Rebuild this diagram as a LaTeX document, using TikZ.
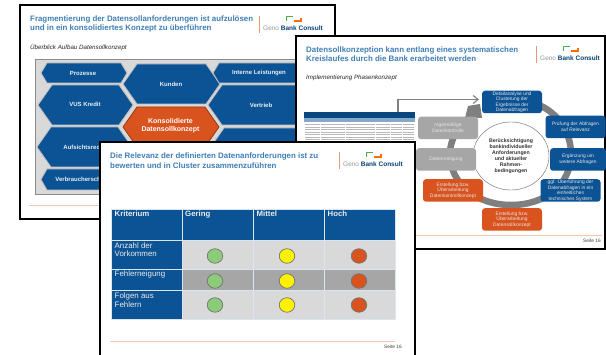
\documentclass[tikz,border=0pt]{standalone}
\usepackage{fontspec}
\setmainfont{Liberation Sans}
\usetikzlibrary{shapes.geometric,arrows.meta}
\definecolor{bankblue}{HTML}{0B5394}
\definecolor{titleblue}{HTML}{3F7FB5}
\definecolor{brandorange}{HTML}{D9531E}
\definecolor{ringgray}{HTML}{7F7F7F}
\definecolor{softgray}{HTML}{A6A6A6}
\definecolor{linepeach}{HTML}{F4C7B2}
\definecolor{lampgreen}{HTML}{8CCB7A}
\definecolor{lampyellow}{HTML}{FFF200}
\tikzset{
  slide/.style={draw=black,line width=2pt,fill=white},
  titletext/.style={anchor=west,inner sep=0pt,text=titleblue,font=\fontsize{7.9}{9.6}\selectfont\bfseries,align=left},
  subhead/.style={anchor=west,inner sep=0pt,font=\fontsize{6.2}{7}\selectfont\itshape,text=black!85},
  hexa/.style={draw=black!25,line width=.8pt,fill=bankblue},
  hexlabel/.style={text=white!90!bankblue,font=\fontsize{6}{7}\selectfont\bfseries,align=center,inner sep=0pt},
  cyc/.style={rounded corners=3pt,draw=none,minimum width=60pt,minimum height=22.5pt,inner sep=0pt,align=center,text=white!90!black,font=\fontsize{4.9}{5.5}\selectfont},
  cycblue/.style={cyc,fill=bankblue},
  cycorange/.style={cyc,fill=brandorange},
  cycgray/.style={cyc,fill=softgray},
  cell/.style={anchor=north west,minimum width=71pt,inner sep=0pt,draw=white!85!bankblue,line width=.6pt},
  tabhead/.style={text=white!92!black,font=\fontsize{7.8}{8.5}\selectfont\bfseries,anchor=north west,inner sep=0pt,align=left},
  tabrow/.style={text=white!92!black,font=\fontsize{7.9}{8.3}\selectfont,anchor=north west,inner sep=0pt,align=left},
  lamp/.style={ellipse,draw=black!55,line width=.7pt,minimum width=15.5pt,minimum height=14.5pt,inner sep=0pt},
  footline/.style={draw=linepeach,line width=1pt},
  pageno/.style={font=\fontsize{4.8}{5}\selectfont,text=black!75,inner sep=0pt},
  genotext/.style={anchor=west,inner sep=0pt,font=\fontsize{6.5}{7}\selectfont,text=black!40},
  logoline/.style={draw=brandorange!60,line width=.8pt},
  logogreen/.style={draw=green!55!black!70,line width=1pt},
  logoorange/.style={draw=orange!85!red,line width=1.2pt},
}
\newcommand{\genologo}[3]{%
  \draw[logoline] (#1,#2) -- (#1,#2+17);
  \node[genotext] (#3) at (#1+4,#2+12) {Geno \textcolor{bankblue!80!black}{\textbf{Bank Consult}}};
  \draw[logogreen] (#1+27,#2+5) -- (#1+27,#2+1) -- (#1+34,#2+1);
  \draw[logoorange] (#1+35,#2+5) -- (#1+42,#2+5) -- (#1+42,#2+2);
}
\newcommand{\hexshape}[5]{% x1,y1,x2,y2,cut
  \draw[hexa] (#1,{(#2+#4)/2}) -- (#1+#5,#2) -- (#3-#5,#2) -- (#3,{(#2+#4)/2}) -- (#3-#5,#4) -- (#1+#5,#4) -- cycle;
}
\begin{document}
\begin{tikzpicture}[x=1pt,y=-1pt]
\useasboundingbox (0,0) rectangle (606,355);
\fill[white] (0,0) rectangle (606,355);

%% ---- slide 1
\draw[slide] (19.5,5.5) rectangle (335,219.5);
\node[titletext] (t1) at (30,24) {Fragmentierung der Datensollanforderungen ist aufzulösen\\und in ein konsolidiertes Konzept zu überführen};
\genologo{259}{16}{g1}
\node[subhead] (s1) at (30,47.5) {Überblick Aufbau Datensollkonzept};
\draw[draw=black!45,fill=black!15,line width=.9pt] (35,59) rectangle (320,194);
\hexshape{41}{63}{127}{83}{6}
\hexshape{123}{64}{220}{104}{14}
\hexshape{213}{63}{310}{83}{6}
\hexshape{38}{85}{133}{125}{14}
\hexshape{208}{85}{310}{125}{14}
\hexshape{37}{127}{132}{167}{14}
\hexshape{210}{128}{310}{168}{14}
\hexshape{41}{169}{132}{190}{6}
\draw[hexa,fill=brandorange,draw=brandorange!70!black] (123,127) -- (137,107) -- (205,107) -- (219,127) -- (205,147) -- (137,147) -- cycle;
\node[hexlabel] (h1) at (83,73) {Prozesse};
\node[hexlabel] (h2) at (171,84) {Kunden};
\node[hexlabel] (h3) at (259,73) {Interne Leistungen};
\node[hexlabel] (h4) at (85,104.5) {VUS Kredit};
\node[hexlabel] (h5) at (261,105) {Vertrieb};
\node[hexlabel] (h6) at (84.5,147) {Aufsichtsrecht};
\node[hexlabel] (h7) at (82.5,179) {Verbraucherschutz};
\node[hexlabel,text=white,font=\fontsize{7}{8}\selectfont\bfseries] (h8) at (170.5,126) {Konsolidierte\\Datensollkonzept};
\draw[footline] (29,206) -- (330,206);

%% ---- slide 2
\draw[slide] (296,36) rectangle (605,249);
\node[titletext] (t2) at (306,54) {Datensollkonzeption kann entlang eines systematischen\\Kreislaufes durch die Bank erarbeitet werden};
\genologo{536}{46}{g2}
\node[subhead] (s2) at (306,78) {Implementierung Phasenkonzept};

% table picture
\node[anchor=north west,fill=bankblue!85!black,minimum width=111pt,minimum height=6pt,inner sep=0pt] (tbl) at (303.5,112) {};
\fill[bankblue!50] (303.5,118) rectangle (414.5,122);
\foreach \yy in {124.5,127,129.5,132,134.5,137,139.5}{\draw[black!28,line width=.5pt] (305,\yy) -- (414,\yy);}
\foreach \xx in {320,345,375,390,402}{\draw[white,line width=.6pt] (\xx,122) -- (\xx,142);}

% ring
\draw[ringgray,line width=6.5pt] (476,113) .. controls (462,122) and (450,136) .. (450,154)
  .. controls (450,185) and (478,205) .. (511,205)
  .. controls (545,205) and (571,185) .. (571,154)
  .. controls (571,130) and (555,108) .. (530,102);
\fill[ringgray] (465,118) -- (468,106) -- (480,104) -- (482,118) -- cycle;

\node[draw=black!60,fill=white,ellipse,minimum width=76pt,minimum height=68pt,inner sep=0pt,align=center,font=\fontsize{5.2}{5.9}\selectfont\bfseries,text=black!80] (core) at (511,156) {Berücksichtigung\\bankindividueller\\Anforderungen\\und aktueller\\Rahmen-\\bedingungen};

\node[cycblue] (n1) at (512,102) {Detailanalyse und\\Clusterung der\\Ergebnisse der\\Datenabfragen};
\node[cycblue] (n2) at (575.5,127) {Prüfung der Abfragen\\auf Relevanz};
\node[cycblue,minimum width=56pt] (n3) at (578,159.5) {Ergänzung um\\weitere Abfragen};
\node[cycblue] (n4) at (570.5,190.5) {ggf. Überführung der\\Datenabfragen in ein\\einheitliches\\technisches System};
\node[cycorange] (n5) at (512,219.5) {Erstellung bzw.\\Überarbeitung\\Datensollkonzept};
\node[cycorange] (n6) at (453,190.5) {Erstellung bzw.\\Überarbeitung\\Datenkontrollkonzept};
\node[cycgray] (n7) at (446,159.5) {Datenreinigung};
\node[cycgray] (n8) at (448,128) {regelmäßige\\Datenkontrolle};

\coordinate (tblout) at (398,112);
\coordinate (n1in) at (479,99.5);
\draw[ringgray,line width=1.1pt,-{Straight Barb[length=5pt,width=8pt]}] (tblout) |- (n1in);

\draw[footline] (415,236) -- (602,236);
\node[pageno] (p2) at (592,241) {Seite 16};

%% ---- slide 3
\draw[slide,fill=white] (99.5,142.5) rectangle (415,360);
\node[titletext] (t3) at (110,160.5) {Die Relevanz der definierten Datenanforderungen ist zu\\bewerten und in Cluster zusammenzuführen};
\genologo{339}{152}{g3}

\node[cell,fill=bankblue,minimum height=31pt] (c00) at (111,209) {};
\node[cell,fill=bankblue,minimum height=31pt] (c01) at (182,209) {};
\node[cell,fill=bankblue,minimum height=31pt] (c02) at (253,209) {};
\node[cell,fill=bankblue,minimum height=31pt] (c03) at (324,209) {};
\node[cell,fill=bankblue,minimum height=29pt] (c10) at (111,240) {};
\node[cell,fill=black!15,minimum height=29pt] (c11) at (182,240) {};
\node[cell,fill=black!15,minimum height=29pt] (c12) at (253,240) {};
\node[cell,fill=black!15,minimum height=29pt] (c13) at (324,240) {};
\node[cell,fill=bankblue,minimum height=21pt] (c20) at (111,269) {};
\node[cell,fill=softgray,minimum height=21pt] (c21) at (182,269) {};
\node[cell,fill=softgray,minimum height=21pt] (c22) at (253,269) {};
\node[cell,fill=softgray,minimum height=21pt] (c23) at (324,269) {};
\node[cell,fill=bankblue,minimum height=29pt] (c30) at (111,290) {};
\node[cell,fill=black!15,minimum height=29pt] (c31) at (182,290) {};
\node[cell,fill=black!15,minimum height=29pt] (c32) at (253,290) {};
\node[cell,fill=black!15,minimum height=29pt] (c33) at (324,290) {};

\node[tabhead] (k0) at (114.5,211) {Kriterium};
\node[tabhead] (k1) at (185,211) {Gering};
\node[tabhead] (k2) at (256.5,211) {Mittel};
\node[tabhead] (k3) at (327.5,211) {Hoch};
\node[tabrow] (r1) at (114.5,242.5) {Anzahl der\\Vorkommen};
\node[tabrow] (r2) at (114.5,270.5) {Fehlerneigung};
\node[tabrow] (r3) at (114.5,293) {Folgen aus\\Fehlern};

\node[lamp,fill=lampgreen] (a1) at (215,256) {};
\node[lamp,fill=lampyellow] (a2) at (287,256) {};
\node[lamp,fill=brandorange] (a3) at (359,256) {};
\node[lamp,fill=lampgreen] (b1) at (215,281) {};
\node[lamp,fill=lampyellow] (b2) at (287,281) {};
\node[lamp,fill=brandorange] (b3) at (359,281) {};
\node[lamp,fill=lampgreen] (d1) at (215,305) {};
\node[lamp,fill=lampyellow] (d2) at (287,305) {};
\node[lamp,fill=brandorange] (d3) at (359,305) {};

\draw[footline] (110,342) -- (395,342);
\node[pageno] (p3) at (393,347) {Seite 16};
\end{tikzpicture}
\end{document}
